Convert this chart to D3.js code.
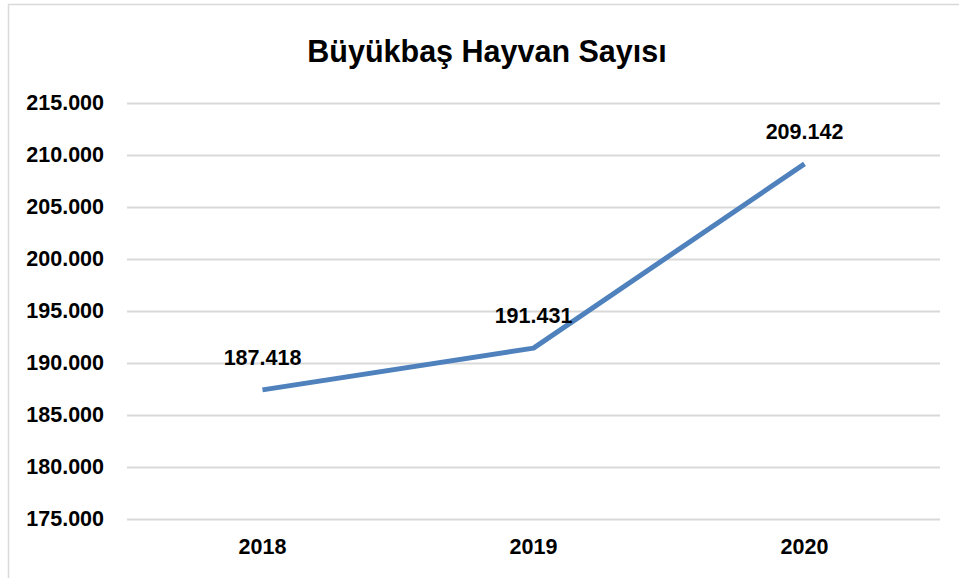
<!DOCTYPE html>
<html>
<head>
<meta charset="utf-8">
<script src="https://cdn.jsdelivr.net/npm/d3@7"></script>
<style>
  body { margin: 0; background: #fff; }
  svg text { font-family: "Liberation Sans", Arial, sans-serif; font-weight: bold; fill: #000; }
</style>
</head>
<body>
<div class="chart"></div>
<script>
// data
const years = ['2018', '2019', '2020'];
const counts = [187418, 191431, 209142];
const yTicks = [175000, 180000, 185000, 190000, 195000, 200000, 205000, 210000, 215000];
const title = 'Büyükbaş Hayvan Sayısı';

const width = 959, height = 578;
const margin = { left: 127, right: 19, top: 103, bottom: 59 };

const svg = d3.select('.chart')
    .append('svg')
    .attr('width', width)
    .attr('height', height);

// chart frame
svg.append('rect')
    .attr('x', 8.5).attr('y', 4.5)
    .attr('width', 980).attr('height', 600)
    .attr('fill', 'none')
    .attr('stroke', '#d9d9d9')
    .attr('stroke-width', 1.5);

const x = d3.scaleBand()
    .domain(years)
    .range([margin.left, width - margin.right]);

const y = d3.scaleLinear()
    .domain([175000, 215000])
    .range([height - margin.bottom, margin.top]);

// format like 215.000
const fmt = d => d3.format(',')(d).replace(/,/g, '.');

// gridlines + y labels
const yAxis = d3.axisLeft(y)
    .tickValues(yTicks)
    .tickSize(-(width - margin.left - margin.right))
    .tickPadding(23)
    .tickFormat(fmt);

const gy = svg.append('g')
    .attr('transform', `translate(${margin.left},0)`)
    .call(yAxis);
gy.select('.domain').remove();
gy.selectAll('.tick line').attr('stroke', '#d9d9d9').attr('stroke-width', 2);
gy.selectAll('.tick text').style('font-size', '21.5px').attr('fill', '#000');

// x labels
const xAxis = d3.axisBottom(x).tickSize(0).tickPadding(20);
const gx = svg.append('g')
    .attr('transform', `translate(0,${height - margin.bottom})`)
    .call(xAxis);
gx.select('.domain').remove();
gx.selectAll('.tick text').style('font-size', '21.5px').attr('fill', '#000');

// line
const line = d3.line()
    .x((d, i) => x(years[i]) + x.bandwidth() / 2)
    .y(d => y(d));

svg.append('path')
    .datum(counts)
    .attr('d', line)
    .attr('fill', 'none')
    .attr('stroke', '#4f81bd')
    .attr('stroke-width', 5)
    .attr('stroke-linejoin', 'round');

// data labels
svg.selectAll('.lbl')
    .data(counts)
    .enter().append('text')
    .attr('class', 'lbl')
    .attr('x', (d, i) => x(years[i]) + x.bandwidth() / 2)
    .attr('y', d => y(d) - 25)
    .attr('text-anchor', 'middle')
    .style('font-size', '21.5px')
    .text(fmt);

// title
svg.append('text')
    .attr('x', 487)
    .attr('y', 62)
    .attr('text-anchor', 'middle')
    .style('font-size', '30.5px')
    .text(title);
</script>
</body>
</html>
